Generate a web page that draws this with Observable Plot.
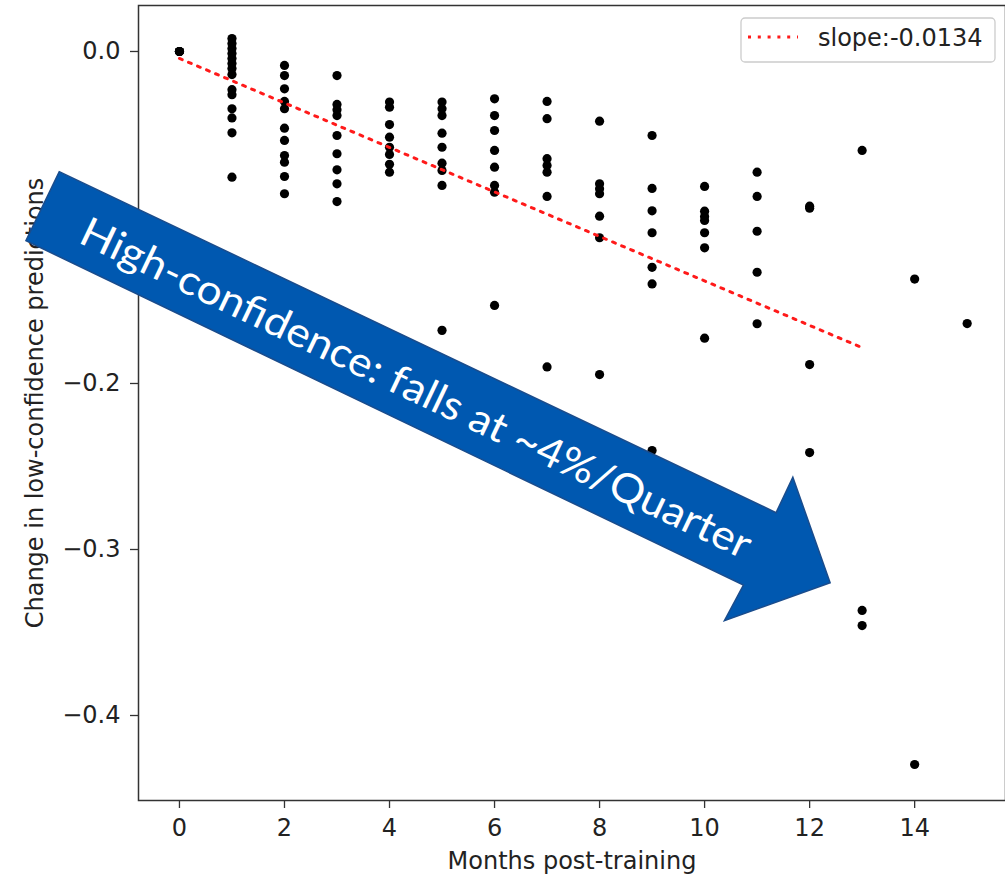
<!DOCTYPE html>
<html><head><meta charset="utf-8">
<script src="https://cdn.jsdelivr.net/npm/d3@7"></script>
<script src="https://cdn.jsdelivr.net/npm/@observablehq/plot@0.6"></script>
<style>body{margin:0;background:#fff;} svg{display:block}</style>
</head><body><div id="chart"></div>
<script>
// ---- data ----
const months = [0,1,2,3,4,5,6,7,8,9,10,11,12,13,14,15];
const changeByMonth = [
  [0, 0, 0, 0],
  [0.0078, 0.0048, 0.0018, -0.0012, -0.0042, -0.0072, -0.0102, -0.0139, -0.023, -0.026, -0.0345, -0.040, -0.049, -0.0757],
  [-0.0084, -0.0145, -0.0225, -0.0301, -0.0345, -0.0462, -0.0536, -0.0627, -0.0667, -0.0753, -0.0857],
  [-0.0145, -0.0319, -0.0351, -0.0386, -0.0506, -0.0616, -0.0713, -0.0797, -0.0904],
  [-0.0305, -0.0336, -0.044, -0.0516, -0.0577, -0.062, -0.068, -0.0727],
  [-0.0305, -0.0345, -0.0386, -0.0492, -0.0577, -0.0673, -0.0717, -0.0807, -0.168],
  [-0.0285, -0.0386, -0.0476, -0.0596, -0.0697, -0.0807, -0.0848, -0.153],
  [-0.0301, -0.0405, -0.0646, -0.0687, -0.0727, -0.0873, -0.190],
  [-0.042, -0.0797, -0.0827, -0.0857, -0.0992, -0.1122, -0.1946],
  [-0.0506, -0.0825, -0.0960, -0.1092, -0.130, -0.140, -0.2404],
  [-0.0813, -0.0962, -0.0994, -0.1018, -0.1092, -0.1183, -0.1727],
  [-0.0727, -0.0873, -0.1083, -0.133, -0.164],
  [-0.0932, -0.0944, -0.1886, -0.2416],
  [-0.0596, -0.3367, -0.3458],
  [-0.1371, -0.4295],
  [-0.1639]
];
const trendMonths = [0, 13];
const trendChange = [-0.0042, -0.1784];
const legendLabel = "slope:-0.0134";
const xTicks = [0, 2, 4, 6, 8, 10, 12, 14];
const yTicks = [0, -0.1, -0.2, -0.3, -0.4];
const xLabel = "Months post-training";
const yLabel = "Change in low-confidence predictions";
const arrowText = "High-confidence: falls at ~4%/Quarter";

// ---- build tables ----
const points = months.flatMap((m, i) => changeByMonth[i].map(v => ({month: m, change: v})));
const trend = trendMonths.map((m, i) => ({month: m, change: trendChange[i]}));

const font = "'DejaVu Sans', sans-serif";
const plot = Plot.plot({
  width: 1005,
  height: 879,
  marginLeft: 138,
  marginRight: 0,
  marginTop: 5,
  marginBottom: 79,
  style: {fontFamily: font, fontSize: "24px", background: "white", color: "#222"},
  x: {domain: [-0.78, 15.73]},
  y: {domain: [-0.4512, 0.0277]},
  marks: [
    Plot.axisX({ticks: xTicks, tickSize: 8, tickPadding: 10, label: null, stroke: "#333", strokeWidth: 1.3, fontSize: 24, tickFormat: d => String(d)}),
    Plot.axisY({ticks: yTicks, tickSize: 8, tickPadding: 10, label: null, stroke: "#333", strokeWidth: 1.3, fontSize: 24, tickFormat: d3.format(".1f")}),
    Plot.dot(points, {x: "month", y: "change", r: 4.6, fill: "black", stroke: "none"}),
    Plot.line(trend, {x: "month", y: "change", stroke: "#ff1a1a", strokeWidth: 3, strokeDasharray: "3,6.8"}),
    Plot.frame({stroke: "#333", strokeWidth: 1.5}),
    Plot.text([xLabel], {text: d => d, frameAnchor: "bottom", textAnchor: "middle", lineAnchor: "middle", dy: 61, fontSize: 24, fill: "#222"}),
    Plot.text([yLabel], {text: d => d, frameAnchor: "left", textAnchor: "middle", lineAnchor: "middle", dx: -103, rotate: -90, fontSize: 24, fill: "#222"})
  ]
});
document.getElementById("chart").appendChild(plot);

// ---- annotations placed through the plot's scales ----
const sx = plot.scale("x"), sy = plot.scale("y");
const svg = d3.select(plot);

// legend
const lg = svg.append("g").attr("text-anchor", "start");
lg.append("rect").attr("x", 741).attr("y", 18).attr("width", 254).attr("height", 44)
  .attr("rx", 4).attr("fill", "white").attr("fill-opacity", 0.8).attr("stroke", "#cccccc").attr("stroke-width", 1.3);
lg.append("line").attr("x1", 748).attr("x2", 798).attr("y1", 37).attr("y2", 37)
  .attr("stroke", "#ff1a1a").attr("stroke-width", 3).attr("stroke-dasharray", "3,6.8");
lg.append("text").attr("x", 818).attr("y", 45.5).attr("text-anchor", "start")
  .attr("font-family", font).attr("font-size", 24)
  .attr("fill", "#222").text(legendLabel);

// block arrow (outline given in data units: month, change)
const arrowOutline = [[-2.28, -0.0727], [11.371, -0.2781], [11.690, -0.2568], [12.400, -0.3203],
                      [10.387, -0.3432], [10.749, -0.3217], [-2.914, -0.1143]];
svg.append("polygon")
  .attr("points", arrowOutline.map(([m, c]) => `${sx.apply(m)},${sy.apply(c)}`).join(" "))
  .attr("fill", "#0058B0").attr("stroke", "#1A4C8C").attr("stroke-width", 1.5);
const tc = [4.52, -0.2030];
const tx = sx.apply(tc[0]), ty = sy.apply(tc[1]);
svg.append("text")
  .attr("x", tx).attr("y", ty)
  .attr("transform", `rotate(25.5 ${tx} ${ty})`)
  .attr("text-anchor", "middle").attr("dy", "0.35em")
  .attr("font-family", "Lato, 'Open Sans', sans-serif").attr("font-size", 41)
  .attr("fill", "white")
  .attr("textLength", 738).attr("lengthAdjust", "spacingAndGlyphs")
  .text(arrowText);
</script>
</body></html>
